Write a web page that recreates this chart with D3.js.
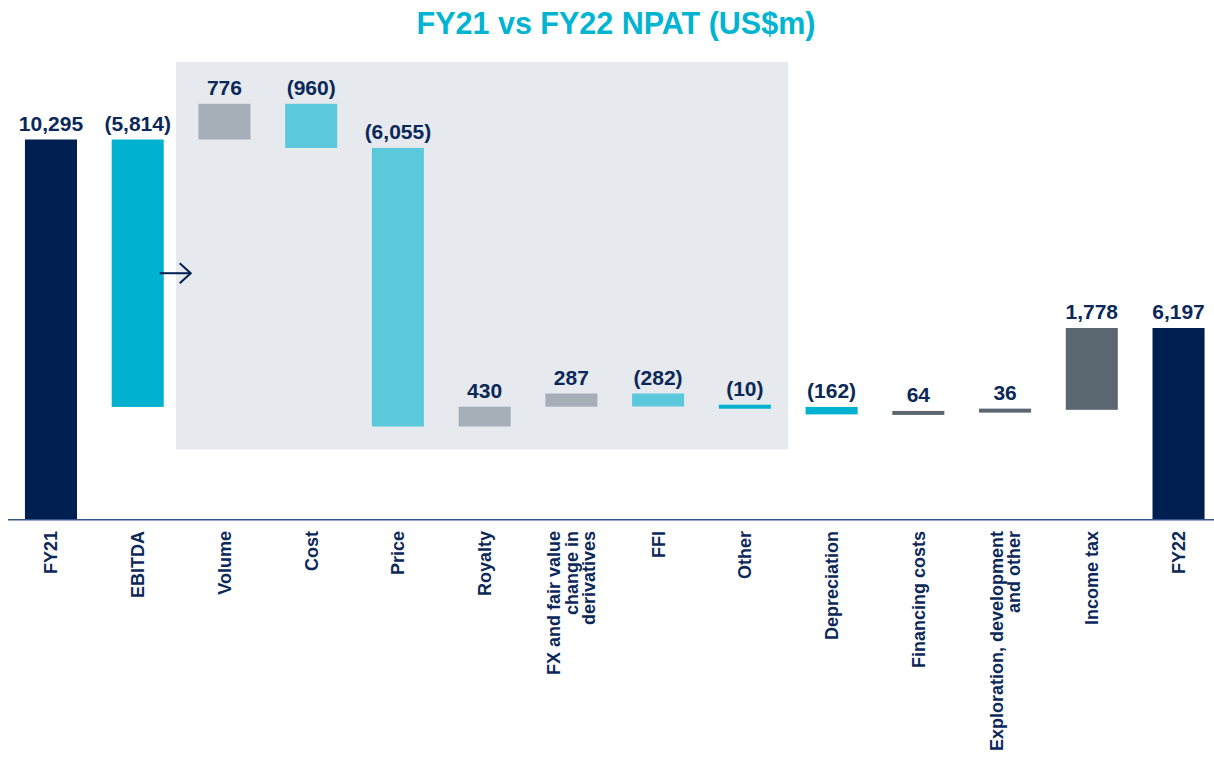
<!DOCTYPE html>
<html>
<head>
<meta charset="utf-8">
<script src="https://cdn.jsdelivr.net/npm/d3@7/dist/d3.min.js"></script>
<style>
  html, body { margin: 0; padding: 0; background: #ffffff; }
  svg { display: block; }
  text { font-family: "Liberation Sans", Arial, sans-serif; font-weight: bold; }
</style>
</head>
<body>
<svg id="chart" width="1214" height="763"></svg>
<script>
// ---------------- DATA ----------------
const title = "FY21 vs FY22 NPAT (US$m)";
const categories = ["FY21", "EBITDA", "Volume", "Cost", "Price", "Royalty", "FX", "FFI", "Other",
  "Depreciation", "Financing costs", "Exploration", "Income tax", "FY22"];
const tickLabels = [
  ["FY21"], ["EBITDA"], ["Volume"], ["Cost"], ["Price"], ["Royalty"],
  ["FX and fair value", "change in", "derivatives"], ["FFI"], ["Other"],
  ["Depreciation"], ["Financing costs"], ["Exploration, development", "and other"],
  ["Income tax"], ["FY22"]
];
const values = [10295, -5814, 776, -960, -6055, 430, 287, -282, -10, -162, 64, 36, 1778, 6197];
// role of each step in the waterfall
const roles = ["total", "group", "detail", "detail", "detail", "detail", "detail", "detail", "detail",
  "step", "step", "step", "step", "total"];

// ---------------- STYLE ----------------
const NAVY = "#001f51", CYAN = "#00b2d0", LIGHT_CYAN = "#5bc8db",
      LIGHT_GREY = "#a6afb8", DARK_GREY = "#5a6670", TEXT = "#0b2859",
      PANEL = "#e6e9ed", TITLE = "#00b4d2", AXIS = "#34558a";
const fillByCategory = {
  "FY21": NAVY, "EBITDA": CYAN, "Volume": LIGHT_GREY, "Cost": LIGHT_CYAN, "Price": LIGHT_CYAN,
  "Royalty": LIGHT_GREY, "FX": LIGHT_GREY, "FFI": LIGHT_CYAN, "Other": CYAN,
  "Depreciation": CYAN, "Financing costs": DARK_GREY, "Exploration": DARK_GREY,
  "Income tax": DARK_GREY, "FY22": NAVY
};

// ---------------- SCALES ----------------
const baseY = 519;
const x = d3.scaleBand().domain(categories).range([7.6, 1221.9]).paddingInner(0.4).paddingOuter(0.2);
const y = d3.scaleLinear().domain([2045, 10295]).range([baseY, 139.5]);
const floor = y.domain()[0];

// compute waterfall segments
let running = 0, detailRun = 0;
const bars = categories.map((c, i) => {
  const v = values[i], r = roles[i];
  let start, end;
  if (r === "total") { start = floor; end = v; running = v; }
  else if (r === "group") { start = running; end = running + v; detailRun = running; running = end; }
  else if (r === "detail") { start = detailRun; end = detailRun + v; detailRun = end; }
  else { start = running; end = running + v; running = end; }
  return { c, v, r, start, end, label: tickLabels[i] };
});

const svg = d3.select("#chart");

// panel behind EBITDA breakdown
const details = bars.filter(b => b.r === "detail");
const step = x.step();
const panelLeft = x(details[0].c) + x.bandwidth() / 2 - step / 2 - 5;
const panelRight = x(details[details.length - 1].c) + x.bandwidth() / 2 + step / 2;
const detailTop = d3.min(details, b => y(Math.max(b.start, b.end)));
const detailBottom = d3.max(details, b => y(Math.min(b.start, b.end)));
svg.append("rect")
  .attr("x", panelLeft).attr("y", detailTop - 42)
  .attr("width", panelRight - panelLeft).attr("height", detailBottom - detailTop + 65)
  .attr("fill", PANEL);

// bars
const minH = 4;
const barTop = d => {
  const top = y(Math.max(d.start, d.end)), bot = y(Math.min(d.start, d.end));
  return (bot - top < minH) ? (top + bot) / 2 - minH / 2 : top;
};
svg.append("g").selectAll("rect").data(bars).join("rect")
  .attr("x", d => x(d.c))
  .attr("width", x.bandwidth())
  .attr("y", barTop)
  .attr("height", d => Math.max(minH, Math.abs(y(d.start) - y(d.end))))
  .attr("fill", d => fillByCategory[d.c]);

// value labels
const fmt = d3.format(",");
svg.append("g").selectAll("text").data(bars).join("text")
  .attr("x", d => x(d.c) + x.bandwidth() / 2)
  .attr("y", d => barTop(d) - 9)
  .attr("text-anchor", "middle")
  .attr("font-size", 21)
  .attr("fill", TEXT)
  .text(d => d.v < 0 ? "(" + fmt(-d.v) + ")" : fmt(d.v));

// baseline axis
svg.append("line")
  .attr("x1", 8).attr("x2", 1214)
  .attr("y1", baseY + 0.8).attr("y2", baseY + 0.8)
  .attr("stroke", AXIS).attr("stroke-width", 1.6);

// category labels (rotated)
const lh = 17.5;
const tg = svg.append("g").selectAll("text").data(bars).join("text")
  .attr("transform", d => `translate(${x(d.c) + x.bandwidth() / 2 + 6.5},${baseY + 12}) rotate(-90)`)
  .attr("text-anchor", "end")
  .attr("font-size", 18)
  .attr("fill", TEXT);
tg.each(function (d) {
  const n = d.label.length;
  d3.select(this).selectAll("tspan").data(d.label).join("tspan")
    .attr("x", 0)
    .attr("y", (_, i) => (i - (n - 1) / 2) * lh)
    .text(s => s);
});

// arrow from EBITDA into breakdown panel
const eb = bars.find(b => b.r === "group");
const ay = (y(eb.start) + y(eb.end)) / 2;
const ax0 = x(eb.c) + x.bandwidth() - 4, ax1 = ax0 + 31;
const arrow = svg.append("g").attr("stroke", NAVY).attr("stroke-width", 2).attr("fill", "none");
arrow.append("line").attr("x1", ax0).attr("x2", ax1).attr("y1", ay).attr("y2", ay);
arrow.append("path").attr("d", `M${ax1 - 11},${ay - 10} L${ax1},${ay} L${ax1 - 11},${ay + 10}`)
  .attr("stroke-linejoin", "miter");

// title
svg.append("text")
  .attr("x", 616).attr("y", 34)
  .attr("text-anchor", "middle")
  .attr("font-size", 30.5)
  .attr("letter-spacing", "0px")
  .attr("fill", TITLE)
  .text(title);
</script>
</body>
</html>
